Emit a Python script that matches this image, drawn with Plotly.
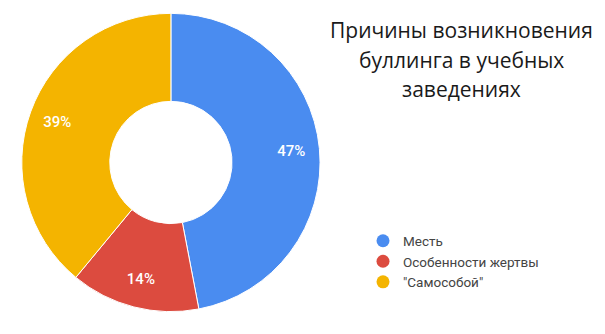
import plotly.graph_objects as go

categories = ["Месть", "Особенности жертвы", "\"Самособой\""]
values = [47, 14, 39]
colors = ["#4A8CF0", "#DC4B3F", "#F4B400"]
title_lines = ["Причины возникновения", "буллинга в учебных", "заведениях"]

domain = dict(x=[0.036, 0.529], y=[0.066, 0.961])

fig = go.Figure()
# coloured ring
fig.add_trace(go.Pie(
    labels=categories, values=values, hole=0.41, sort=False,
    direction="clockwise", rotation=0,
    marker=dict(colors=colors, line=dict(color="white", width=1)),
    textinfo="none", hoverinfo="label+percent",
    domain=domain, showlegend=False,
))
# label ring (transparent) so percentages sit a bit further out, as in the reference
fig.add_trace(go.Pie(
    labels=categories, values=values, hole=0.62, sort=False,
    direction="clockwise", rotation=0,
    marker=dict(colors=["rgba(0,0,0,0)"] * 3, line=dict(width=0)),
    textinfo="percent", texttemplate="%{percent:.0%}",
    textposition="inside", insidetextorientation="horizontal",
    textfont=dict(color="white", size=15, family="Roboto, Arial", weight=500),
    hoverinfo="skip",
    domain=domain, showlegend=False,
))
for c, col in zip(categories, colors):
    fig.add_trace(go.Scatter(
        x=[None], y=[None], mode="markers", name=c,
        marker=dict(color=col, size=13, symbol="circle"),
        showlegend=True,
    ))

title_y = [30, 60, 89]
fig.update_layout(
    width=605, height=334,
    margin=dict(l=0, r=0, t=0, b=0),
    paper_bgcolor="white", plot_bgcolor="white",
    xaxis=dict(visible=False), yaxis=dict(visible=False),
    legend=dict(x=0.6, y=0.325, xanchor="left", yanchor="top",
                font=dict(size=13.5, color="#444", family="Roboto, Arial"),
                bgcolor="rgba(0,0,0,0)", borderwidth=0, tracegroupgap=0),
    annotations=[dict(
        text=t, x=461/605, y=1 - yy/334, xref="paper", yref="paper",
        xanchor="center", yanchor="middle", showarrow=False, align="center",
        font=dict(size=21, color="#1a1a1a", family="Open Sans"),
    ) for t, yy in zip(title_lines, title_y)],
)

fig.write_html("out.html", config={"displayModeBar": False},
               post_script="document.body.style.margin='0px';")
